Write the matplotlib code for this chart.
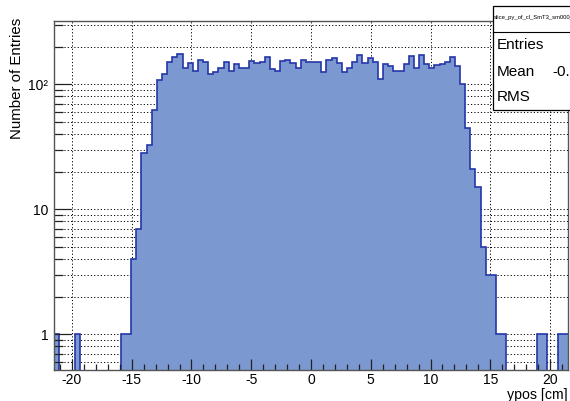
import numpy as np
import matplotlib
matplotlib.use("Agg")
import matplotlib.pyplot as plt
from matplotlib.patches import Rectangle
from matplotlib.ticker import FixedLocator, FixedFormatter, MultipleLocator

plt.rcParams['font.family'] = 'Liberation Sans'
plt.rcParams['axes.unicode_minus'] = False

# 100 bins between -21.5 and 21.5 cm
x_min, x_max, n_bins = -21.5, 21.5, 100
counts = [
    1, 0, 0, 0, 1, 0, 0, 0, 0, 0,
    0, 0, 0, 1, 1, 4, 7, 28, 33, 62,
    108, 122, 150, 166, 174, 134, 147, 128, 156, 152,
    122, 125, 134, 150, 128, 145, 136, 136, 155, 147,
    150, 164, 133, 128, 155, 156, 147, 134, 158, 152,
    151, 151, 126, 158, 161, 147, 126, 136, 150, 172,
    147, 161, 150, 110, 145, 141, 128, 128, 145, 168,
    136, 172, 145, 134, 143, 145, 152, 164, 140, 100,
    45, 21, 15, 5, 3, 3, 1, 1, 0, 0,
    0, 0, 0, 0, 1, 1, 0, 0, 1, 1,
]
x_ticks = [-20, -15, -10, -5, 0, 5, 10, 15, 20]
y_ticks = [1, 10, 100]
y_tick_labels = ['1', '10', '10²']
stat_names = ['Entries', 'Mean', 'RMS']
hist_name = 'slice_py_of_cl_SmT3_sm000_'

edges = np.linspace(x_min, x_max, n_bins + 1)
floor = 1e-3
vals = np.maximum(np.array(counts, dtype=float), floor)

W, H = 570, 401
fig = plt.figure(figsize=(W / 100, H / 100), dpi=100)
ax = fig.add_axes([54 / W, 1 - 370 / H, (568 - 54) / W, (370 - 20.7) / H])
ax.set_yscale('log')
ax.set_xlim(x_min, x_max)
ax.set_ylim(0.518, 323)

# dotted grid under the histogram, also on the log minor ticks
for xv in x_ticks:
    ax.axvline(xv, color='k', lw=0.7, ls=(0, (1.2, 2.2)), zorder=0.5)
grid_y = [m * 10.0 ** d for d in (-1, 0, 1, 2) for m in range(1, 10)]
grid_y = [g for g in grid_y if 0.518 < g < 323]
for yv in grid_y:
    ax.axhline(yv, color='k', lw=0.7, ls=(0, (1.2, 2.2)), zorder=0.5)

ax.stairs(vals, edges, baseline=floor, fill=True, color='#7b99d0', zorder=1)
ax.stairs(vals, edges, baseline=None, color='#2536a8', lw=1.2, zorder=1.2)

ax.xaxis.set_major_locator(FixedLocator(x_ticks))
ax.xaxis.set_minor_locator(MultipleLocator(1))
ax.yaxis.set_major_locator(FixedLocator(y_ticks))
ax.yaxis.set_major_formatter(FixedFormatter(y_tick_labels))
ax.yaxis.set_minor_locator(FixedLocator(grid_y))
ax.yaxis.set_minor_formatter(FixedFormatter([''] * len(grid_y)))

ax.xaxis.set_tick_params(which='major', direction='in', length=8, width=0.9,
                         labelsize=10, pad=2, color='#222222')
ax.xaxis.set_tick_params(which='minor', direction='in', length=4, width=0.9,
                         color='#222222')
ax.yaxis.set_tick_params(which='major', direction='in', length=12.5, width=0.9,
                         labelsize=10, pad=4, color='#222222')
ax.yaxis.set_tick_params(which='minor', direction='in', length=6.5, width=0.9,
                         color='#222222')
for s in ax.spines.values():
    s.set_color('#555555')
    s.set_linewidth(1.0)

fig.text(17 / W, 1 - 78 / H, 'Number of Entries', rotation=90,
         ha='center', va='center', fontsize=10.8)
fig.text(568 / W, 1 - 394.5 / H, 'ypos [cm]', ha='right', va='center',
         fontsize=10.2)

# statistics box in the top right corner
bx0, by0, by1 = 492.5, 5.7, 110
fig.patches.append(Rectangle((bx0 / W, 1 - by1 / H), (W + 10 - bx0) / W,
                             (by1 - by0) / H, transform=fig.transFigure,
                             facecolor='white', edgecolor='black', lw=0.9,
                             zorder=5))
fig.lines.append(plt.Line2D([bx0 / W, 1.02], [1 - 31.7 / H] * 2,
                            transform=fig.transFigure, color='black',
                            lw=0.8, zorder=6))
fig.text(494 / W, 1 - 18 / H, hist_name, fontsize=4.2, ha='left',
         va='center', zorder=7)
for name, yy in zip(stat_names, [45, 71.7, 96.7]):
    fig.text(497 / W, 1 - yy / H, name, fontsize=11, ha='left',
             va='center', zorder=7)
fig.text(552 / W, 1 - 71.7 / H, '-0.0', fontsize=11, ha='left',
         va='center', zorder=7)

fig.savefig('out.png', dpi=100)
